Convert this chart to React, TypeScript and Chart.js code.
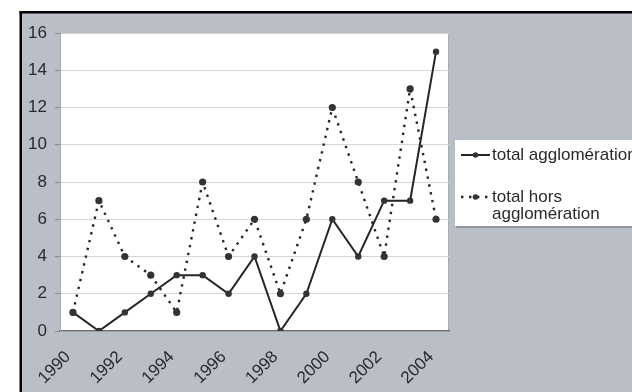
import React, { useEffect, useRef } from 'react';
import { Chart, registerables } from 'chart.js';

Chart.register(...registerables);

const years = ['1990', '1991', '1992', '1993', '1994', '1995', '1996', '1997', '1998', '1999', '2000', '2001', '2002', '2003', '2004'];
const totalAgglomeration = [1, 0, 1, 2, 3, 3, 2, 4, 0, 2, 6, 4, 7, 7, 15];
const totalHorsAgglomeration = [1, 7, 4, 3, 1, 8, 4, 6, 2, 6, 12, 8, 4, 13, 6];
const seriesLabels = ['total agglomération', 'total hors agglomération'];
const yMin = 0;
const yMax = 16;
const yStep = 2;

const FONT = 'Arial, "Liberation Sans", sans-serif';
const TEXT = '#2a2a2a';
const LINE = '#262626';

const backgroundPlugin = {
  id: 'scanBackground',
  beforeDraw(chart: any) {
    const { ctx, width, height, chartArea: a } = chart;
    ctx.save();
    ctx.fillStyle = '#ffffff';
    ctx.fillRect(0, 0, width, height);
    ctx.fillStyle = '#babec6';
    ctx.fillRect(20, 12, width - 20, height - 12);
    ctx.fillStyle = '#ffffff';
    ctx.fillRect(a.left, a.top, a.right - a.left, a.bottom - a.top);
    ctx.strokeStyle = '#a9abae';
    ctx.lineWidth = 1;
    ctx.strokeRect(a.left + 0.5, a.top + 0.5, a.right - a.left - 1, a.bottom - a.top - 1);
    ctx.fillStyle = '#000000';
    ctx.fillRect(19.5, 11, width, 2.5);
    ctx.fillRect(19.5, 11, 2.5, height);
    ctx.restore();
  },
};

const legendPlugin = {
  id: 'boxLegend',
  afterDraw(chart: any) {
    const { ctx } = chart;
    const boxLeft = 455;
    const boxTop = 140;
    const boxBottom = 226;
    ctx.save();
    ctx.fillStyle = 'rgba(80,80,80,0.35)';
    ctx.fillRect(boxLeft + 1, boxTop + 1, 632 - boxLeft, boxBottom - boxTop + 1);
    ctx.fillStyle = '#ffffff';
    ctx.fillRect(boxLeft, boxTop, 632 - boxLeft, boxBottom - boxTop);
    ctx.font = '17px ' + FONT;
    ctx.textBaseline = 'middle';
    ctx.fillStyle = TEXT;
    const rows = [155, 197];
    chart.data.datasets.forEach((ds: any, i: number) => {
      const y = rows[i];
      ctx.save();
      ctx.strokeStyle = ds.borderColor;
      ctx.lineWidth = ds.borderWidth;
      ctx.setLineDash(ds.borderDash || []);
      ctx.beginPath();
      ctx.moveTo(461, y);
      ctx.lineTo(490, y);
      ctx.stroke();
      ctx.setLineDash([]);
      ctx.fillStyle = ds.pointBackgroundColor;
      ctx.beginPath();
      ctx.arc(475.5, y, 2.8, 0, Math.PI * 2);
      ctx.fill();
      ctx.restore();
      const words = String(ds.label).split(' ');
      const lines: string[] = [];
      let cur = '';
      words.forEach((w) => {
        const test = cur ? cur + ' ' + w : w;
        if (ctx.measureText(test).width > 152 && cur) {
          lines.push(cur);
          cur = w;
        } else {
          cur = test;
        }
      });
      if (cur) lines.push(cur);
      lines.forEach((l, k) => ctx.fillText(l, 492, y + k * 17.5));
    });
    ctx.restore();
  },
};

export default function App() {
  const ref = useRef<HTMLCanvasElement | null>(null);

  useEffect(() => {
    if (!ref.current) return;
    const chart = new Chart(ref.current, {
      type: 'line',
      data: {
        labels: years,
        datasets: [
          {
            label: seriesLabels[0],
            data: totalAgglomeration,
            borderColor: LINE,
            borderWidth: 2,
            pointRadius: 3.2,
            pointBackgroundColor: '#333333',
            pointBorderColor: '#333333',
            pointBorderWidth: 0,
            tension: 0,
          },
          {
            label: seriesLabels[1],
            data: totalHorsAgglomeration,
            borderColor: LINE,
            borderWidth: 2.4,
            borderDash: [2.4, 5.6],
            pointRadius: 3.6,
            pointBackgroundColor: '#333333',
            pointBorderColor: '#333333',
            pointBorderWidth: 0,
            tension: 0,
          },
        ],
      },
      options: {
        responsive: false,
        animation: false,
        devicePixelRatio: 1,
        layout: { padding: { left: 0, top: 33, right: 183, bottom: 0 } },
        plugins: {
          legend: { display: false },
          tooltip: { enabled: false },
        },
        scales: {
          x: {
            type: 'category',
            offset: true,
            grid: { display: false, drawTicks: false },
            border: { display: true, color: '#6b6d70', width: 1.5 },
            ticks: {
              autoSkip: false,
              minRotation: 45,
              maxRotation: 45,
              padding: 16,
              labelOffset: -5,
              color: TEXT,
              font: { family: FONT, size: 17 },
              callback: (_v: any, i: number) => (i % 2 === 0 ? years[i] : ''),
            },
            afterFit: (s: any) => {
              s.height = 61;
            },
          },
          y: {
            min: yMin,
            max: yMax,
            ticks: {
              stepSize: yStep,
              padding: 8,
              color: TEXT,
              font: { family: FONT, size: 17 },
            },
            grid: { color: '#d6d6d6', lineWidth: 1, tickLength: 5, tickColor: '#8a8c90' },
            border: { display: true, color: '#a9abae', width: 1 },
            afterFit: (s: any) => {
              s.width = 60;
            },
          },
        },
      },
      plugins: [backgroundPlugin, legendPlugin],
    });
    return () => chart.destroy();
  }, []);

  return (
    <div style={{ position: 'absolute', left: 0, top: 0, width: 632, height: 392 }}>
      <canvas ref={ref} width={632} height={392} style={{ display: 'block', width: 632, height: 392 }} />
    </div>
  );
}
